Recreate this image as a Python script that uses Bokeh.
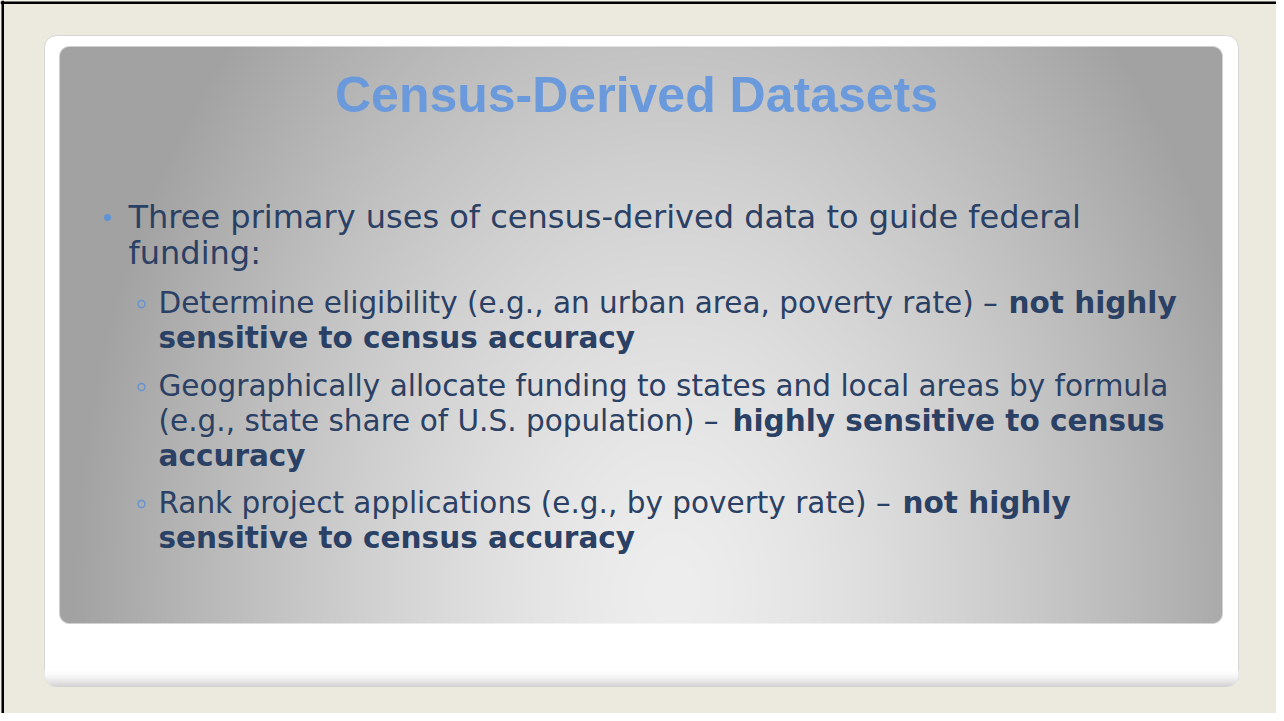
import numpy as np
from bokeh.plotting import figure
from bokeh.models import Range1d
from bokeh.core.properties import value
from bokeh.embed import file_html
from bokeh.resources import INLINE

# ---- content ----
TITLE = "Census-Derived Datasets"
MAIN_LINES = ["Three primary uses of census-derived data to guide federal", "funding:"]
SUB_TEXT = [
    "Determine eligibility (e.g., an urban area, poverty rate) \u2013",
    "not highly",
    "sensitive to census accuracy",
    "Geographically allocate funding to states and local areas by formula",
    "(e.g., state share of U.S. population) \u2013",
    "highly sensitive to census",
    "accuracy",
    "Rank project applications (e.g., by poverty rate) \u2013",
    "not highly",
    "sensitive to census accuracy",
]
SUB_BOLD = [False, True, True, False, False, True, True, False, True, True]

# ---- layout (screen pixel positions) ----
W, H = 1276, 713


def X(sx):
    return sx - 8


def Y(sy):
    return 721 - sy


TITLE_FIX = 16
MAIN_FIX = 11
SUB_FIX = 9.5

MAIN_X = [136, 136]
MAIN_BASE = [235, 271]
SUB_X = [166, 1016, 166, 166, 166, 740, 166, 166, 910, 166]
SUB_BASE = [320, 320, 355, 403, 438, 438, 473, 520, 520, 555]
SUB_RING_BASE = [320, 403, 520]

BEIGE = "#ECE9DF"
TEXT = "#2A4064"
BLUE = "#5E93D5"
TITLE_COLOR = "#6A9ADC"

p = figure(width=W, height=H, output_backend="svg", toolbar_location=None,
           x_range=Range1d(0, W), y_range=Range1d(0, H), min_border=0)
p.axis.visible = False
p.grid.visible = False
p.outline_line_color = None
p.background_fill_color = BEIGE
p.border_fill_color = BEIGE


def rounded_alpha(px, py, x0, x1, y0, y1, r):
    cx, cy = (x0 + x1) / 2, (y0 + y1) / 2
    hw, hh = (x1 - x0) / 2, (y1 - y0) / 2
    qx = np.maximum(np.abs(px - cx) - (hw - r), 0)
    qy = np.maximum(np.abs(py - cy) - (hh - r), 0)
    inside_x = np.abs(px - cx) - hw
    inside_y = np.abs(py - cy) - hh
    dist = np.where((qx > 0) & (qy > 0), np.sqrt(qx ** 2 + qy ** 2) - r,
                    np.maximum(inside_x, inside_y))
    return np.clip(0.5 - dist, 0, 1)


def to_rgba(v, a):
    h, w = v.shape
    img = np.empty((h, w), dtype=np.uint32)
    view = img.view(dtype=np.uint8).reshape((h, w, 4))
    vv = np.clip(v, 0, 255).astype(np.uint8)
    view[..., 0] = vv
    view[..., 1] = vv
    view[..., 2] = vv
    view[..., 3] = (a * 255).astype(np.uint8)
    return img


# black frame lines (left, top)
p.quad(left=[X(9)], right=[X(11.5)], bottom=[0], top=[H], fill_color="black", line_color=None)
p.quad(left=[0], right=[W], bottom=[Y(11.5)], top=[Y(9)], fill_color="black", line_color=None)

# white panel
wx0, wx1, wy0, wy1 = 52, 1246, 43, 694
p.quad(left=[X(wx0)], right=[X(wx1)], bottom=[Y(wy1)], top=[Y(wy0)],
       fill_color="white", line_color="#D6D6D6", line_width=1, border_radius=12)

# bottom shading of white panel
sy0 = 678
sw, sh = wx1 - wx0, wy1 - sy0
px = wx0 + 0.5 + np.arange(sw)
py = wy1 - 0.5 - np.arange(sh)
PX, PY = np.meshgrid(px, py)
t = np.clip((PY - sy0) / (wy1 - sy0), 0, 1)
shade = 255 - 45 * t ** 1.6
alpha = rounded_alpha(PX, PY, wx0, wx1, wy0, wy1, 12)
p.image_rgba(image=[to_rgba(shade, alpha)], x=X(wx0), y=Y(wy1), dw=sw, dh=sh)

# gray gradient panel
gx0, gx1, gy0, gy1 = 67, 1230, 54, 631
gw, gh = gx1 - gx0, gy1 - gy0
px = gx0 + 0.5 + np.arange(gw)
py = gy1 - 0.5 - np.arange(gh)
PX, PY = np.meshgrid(px, py)
d = np.sqrt(((PX - 680) / 600) ** 2 + ((PY - 600) / 820) ** 2)
gray = 238 - 76 * np.clip(d, 0, 1.0) ** 1.4
alpha = rounded_alpha(PX, PY, gx0, gx1, gy0, gy1, 10)
p.image_rgba(image=[to_rgba(gray, alpha)], x=X(gx0), y=Y(gy1), dw=gw, dh=gh)

# title
p.text(x=[X(644)], y=[Y(118 - TITLE_FIX)], text=[TITLE], text_font=value("Liberation Sans"),
       text_font_style="bold", text_font_size="50px", text_color=TITLE_COLOR,
       text_align="center", text_baseline="alphabetic")

# main bullet
p.scatter(x=[X(115)], y=[Y(225)], size=7, marker="circle", fill_color=BLUE, line_color=None)
p.text(x=[X(v) for v in MAIN_X], y=[Y(v - MAIN_FIX) for v in MAIN_BASE], text=MAIN_LINES,
       text_font=value("DejaVu Sans"), text_font_size="32px", text_color=TEXT,
       text_align="left", text_baseline="alphabetic")

# sub bullets
p.scatter(x=[X(149)] * len(SUB_RING_BASE), y=[Y(b - 8.5) for b in SUB_RING_BASE], size=7,
          marker="circle", fill_color=None, line_color=BLUE, line_width=1.3)

reg = [i for i, b in enumerate(SUB_BOLD) if not b]
bld = [i for i, b in enumerate(SUB_BOLD) if b]
p.text(x=[X(SUB_X[i]) for i in reg], y=[Y(SUB_BASE[i] - SUB_FIX) for i in reg],
       text=[SUB_TEXT[i] for i in reg],
       text_font=value("DejaVu Sans"), text_font_size="29.5px", text_color=TEXT,
       text_align="left", text_baseline="alphabetic")
p.text(x=[X(SUB_X[i]) for i in bld], y=[Y(SUB_BASE[i] - SUB_FIX) for i in bld],
       text=[SUB_TEXT[i] for i in bld],
       text_font=value("DejaVu Sans"), text_font_style="bold", text_font_size="29.5px",
       text_color=TEXT, text_align="left", text_baseline="alphabetic")

open("out.html", "w").write(file_html(p, INLINE))
